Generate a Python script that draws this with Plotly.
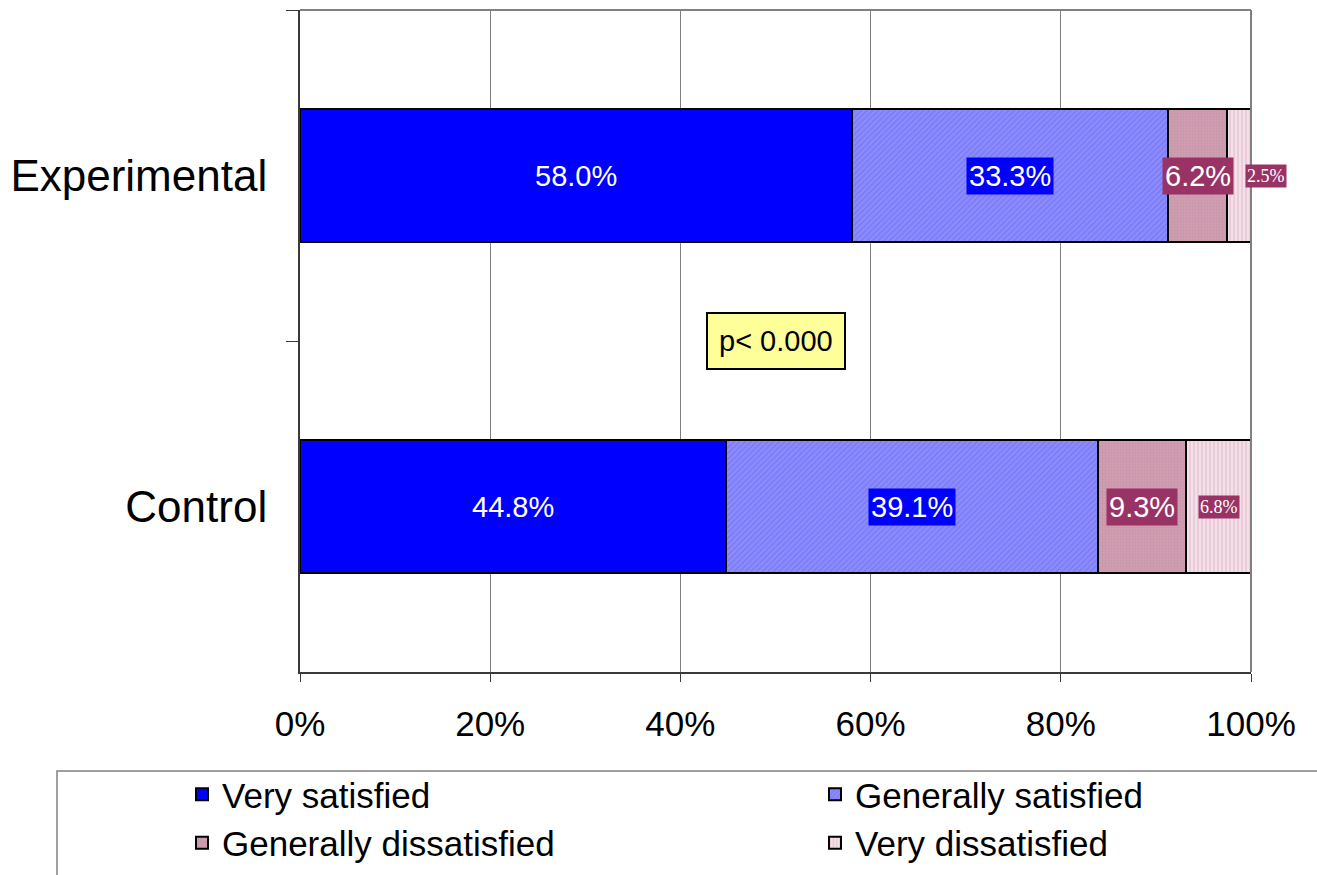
import plotly.graph_objects as go

# Satisfaction survey, share of respondents per group (percent)
groups = ["Experimental", "Control"]
series_names = ["Very satisfied", "Generally satisfied",
                "Generally dissatisfied", "Very dissatisfied"]
very_satisfied = [58.0, 44.8]
generally_satisfied = [33.3, 39.1]
generally_dissatisfied = [6.2, 9.3]
very_dissatisfied = [2.5, 6.8]
x_ticks = [0, 20, 40, 60, 80, 100]
p_note = "p< 0.000"

series_values = [very_satisfied, generally_satisfied,
                 generally_dissatisfied, very_dissatisfied]

W, H = 1317, 875
ML, MR, MT, MB = 300, 66, 10, 203
PW, PH = W - ML - MR, H - MT - MB

SANS = "Liberation Sans, Arial, sans-serif"
SERIF = "Liberation Serif, Times New Roman, serif"

styles = [
    dict(color="#0000FF"),
    dict(color="#8282FA", pattern=dict(shape="/", fgcolor="#6464E6",
                                       bgcolor="#8C8CFF", size=4, solidity=0.35)),
    dict(color="#CC99AD", pattern=dict(shape=".", fgcolor="#C08CA0",
                                       bgcolor="#CF9DB1", size=3, solidity=0.3)),
    dict(color="#F2D8E2", pattern=dict(shape="|", fgcolor="#DDB0C2",
                                       bgcolor="#F4E0E8", size=4, solidity=0.4)),
]
legend_of = ["legend", "legend2", "legend", "legend2"]

# label look per series: (font family, size, background)
label_style = [
    (SANS, 29, None),
    (SANS, 29, "#0000FF"),
    (SANS, 29, "#993366"),
    (SERIF, 18, "#993366"),
]

fig = go.Figure()
for name, vals, st, lg in zip(series_names, series_values, styles, legend_of):
    fig.add_trace(go.Bar(
        y=groups, x=vals, name=name, orientation="h",
        marker=dict(line=dict(color="black", width=2), **st),
        legend=lg, hoverinfo="x+name",
    ))

# value labels centred on each segment
annotations = []
for gi, g in enumerate(groups):
    left = 0.0
    for si, vals in enumerate(series_values):
        v = vals[gi]
        fam, size, bg = label_style[si]
        centre = left + v / 2
        shift = 0
        if si == 3 and v < 4:
            shift = 27  # narrow segment: label sits just past the bar end
        ann = dict(x=centre, y=g, xref="x", yref="y", text=f"{v:.1f}%",
                   showarrow=False, xshift=shift,
                   font=dict(family=fam, size=size, color="white"))
        if bg:
            ann.update(bgcolor=bg, borderpad=2 if size > 20 else 1)
        annotations.append(ann)
        left += v

annotations.append(dict(
    x=50, y=0.5, xref="x", yref="y", text=p_note, showarrow=False,
    font=dict(family=SANS, size=29, color="black"),
    bgcolor="#FFFF99", bordercolor="black", borderwidth=2, borderpad=11,
))

def px_to_paper_x(px):
    return (px - ML) / PW

def px_to_paper_y(py):
    return (H - MB - py) / PH

shapes = [
    # plot-area frame: grey top and right edges
    dict(type="line", xref="paper", yref="paper", x0=0, x1=1, y0=1, y1=1,
         line=dict(color="#808080", width=2)),
    dict(type="line", xref="paper", yref="paper", x0=1, x1=1, y0=0, y1=1,
         line=dict(color="#808080", width=2)),
    # legend frame
    dict(type="rect", xref="paper", yref="paper",
         x0=px_to_paper_x(57), x1=px_to_paper_x(1330),
         y0=px_to_paper_y(771), y1=px_to_paper_y(890),
         line=dict(color="#808080", width=1.5), fillcolor="rgba(0,0,0,0)"),
]

legend_common = dict(orientation="v", yanchor="top", xanchor="left",
                     traceorder="normal",
                     font=dict(family=SANS, size=35, color="black"),
                     bgcolor="rgba(0,0,0,0)", borderwidth=0,
                     tracegroupgap=0, itemclick=False)

fig.update_layout(
    width=W, height=H,
    margin=dict(l=ML, r=MR, t=MT, b=MB, pad=0, autoexpand=False),
    barmode="stack", bargap=0.6,
    plot_bgcolor="white", paper_bgcolor="white",
    font=dict(family=SANS, color="black"),
    showlegend=True,
    legend=dict(x=px_to_paper_x(182), y=px_to_paper_y(765), **legend_common),
    legend2=dict(x=px_to_paper_x(815), y=px_to_paper_y(765), **legend_common),
    annotations=annotations,
    shapes=shapes,
    xaxis=dict(range=[0, 100], tickvals=x_ticks,
               ticktext=[f"{t}%" for t in x_ticks],
               showgrid=True, gridcolor="#808080", gridwidth=1,
               zeroline=False, showline=True, linecolor="#3a3a3a", linewidth=2,
               ticks="outside", ticklen=8, tickcolor="#3a3a3a", tickwidth=1,
               tickfont=dict(family=SANS, size=35, color="black"),
               ticklabelstandoff=12, automargin=False),
    yaxis=dict(autorange="reversed", type="category",
               tickson="boundaries", ticks="outside", ticklen=12,
               tickcolor="#3a3a3a", tickwidth=1,
               showline=True, linecolor="#3a3a3a", linewidth=2,
               showgrid=False, zeroline=False,
               tickfont=dict(family=SANS, size=44, color="black"),
               ticklabelstandoff=22, automargin=False),
)

fig.write_html("out.html")
